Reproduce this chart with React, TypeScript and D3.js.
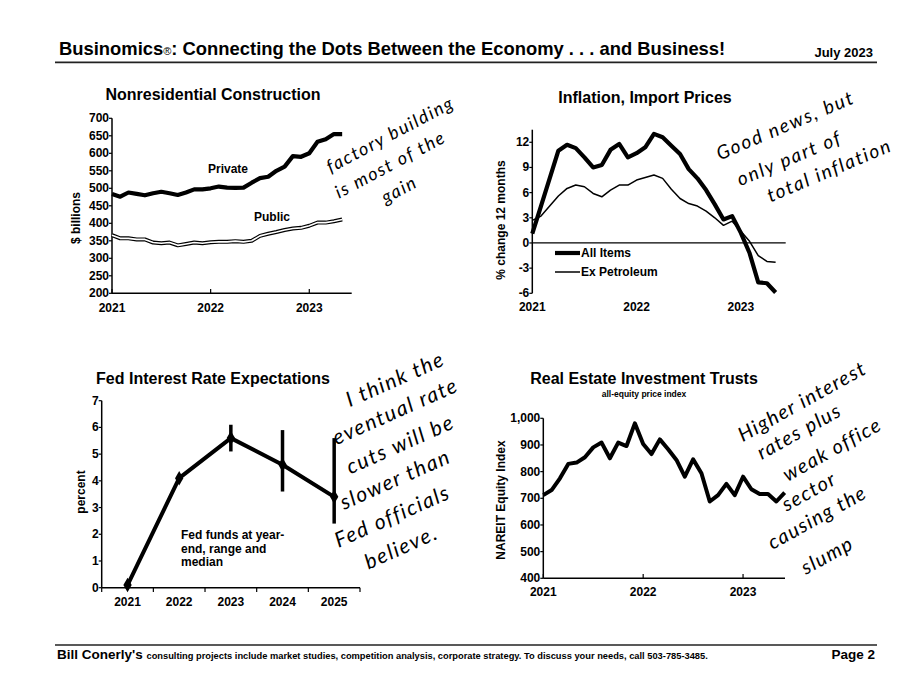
import React from "react";
import * as d3 from "d3";

// ---------- DATA ----------
// Monthly, Jan 2021 ->
const privateConstruction = [484, 476, 488, 484, 480, 486, 490, 486, 481, 488, 497, 497, 500, 505, 502, 501, 502, 516, 529, 533, 550, 562, 592, 590, 600, 633, 640, 655, 655];
const publicConstruction = [366, 357, 357, 354, 354, 345, 343, 345, 337, 341, 345, 343, 346, 347, 347, 349, 347, 350, 364, 370, 375, 381, 385, 387, 393, 402, 402, 406, 411];
const constructionTicks = [200, 250, 300, 350, 400, 450, 500, 550, 600, 650, 700];

const allItems = [1.1, 4.4, 7.7, 11.0, 11.7, 11.3, 10.2, 9.0, 9.3, 11.1, 11.8, 10.2, 10.7, 11.4, 13.0, 12.6, 11.6, 10.6, 8.8, 7.7, 6.3, 4.6, 2.8, 3.2, 1.2, -1.2, -4.7, -4.8, -5.9];
const exPetroleum = [2.7, 3.2, 4.4, 5.6, 6.5, 6.9, 6.7, 5.9, 5.5, 6.3, 6.9, 6.9, 7.5, 7.8, 8.1, 7.7, 6.4, 5.3, 4.7, 4.4, 3.8, 3.0, 2.1, 2.6, 1.4, 0.2, -1.5, -2.2, -2.3];
const inflationTicks = [-6, -3, 0, 3, 6, 9, 12];

const fedYears = ["2021", "2022", "2023", "2024", "2025"];
const fedMedian = [0.1, 4.1, 5.6, 4.6, 3.4];
const fedLow = [null, null, 5.1, 3.6, 2.4];
const fedHigh = [null, null, 6.1, 5.9, 5.6];
const fedTicks = [0, 1, 2, 3, 4, 5, 6, 7];

const reitIndex = [712, 731, 775, 829, 834, 854, 891, 909, 850, 909, 896, 981, 904, 866, 921, 884, 844, 781, 846, 794, 688, 712, 754, 712, 781, 734, 716, 716, 688, 721];
const reitTicks = [400, 500, 600, 700, 800, 900, 1000];

const yearTicks = [0, 1, 2];
const yearLabels = ["2021", "2022", "2023"];

const FONT = "'Liberation Sans', Arial, Helvetica, sans-serif";
const HAND = "Lato, 'Open Sans', sans-serif";

type HandLine = { text: string; x: number; y: number };
const note1: HandLine[] = [
  { text: "factory building", x: 391, y: 136 },
  { text: "is most of the", x: 391, y: 166 },
  { text: "gain", x: 400, y: 191 },
];
const note2: HandLine[] = [
  { text: "Good news, but", x: 786, y: 127 },
  { text: "only part of", x: 790, y: 160 },
  { text: "total inflation", x: 830, y: 172 },
];
const note3: HandLine[] = [
  { text: "I think the", x: 396, y: 381 },
  { text: "eventual rate", x: 396, y: 413 },
  { text: "cuts will be", x: 401, y: 446 },
  { text: "slower than", x: 396, y: 481 },
  { text: "Fed officials", x: 393, y: 518 },
  { text: "believe.", x: 402, y: 549 },
];
const note4: HandLine[] = [
  { text: "Higher interest", x: 803, y: 403 },
  { text: "rates plus", x: 800, y: 433 },
  { text: "weak office", x: 833, y: 451 },
  { text: "sector", x: 810, y: 493 },
  { text: "causing the", x: 818, y: 519 },
  { text: "slump", x: 828, y: 557 },
];

function Hand({ lines, rot, size, spacing }: { lines: HandLine[]; rot: number; size: number; spacing: number }) {
  return (
    <g fontFamily={HAND} fontSize={size} fontStyle="italic" fontWeight={400} fill="#000" letterSpacing={spacing}>
      {lines.map((l, i) => (
        <text key={i} x={l.x} y={l.y} textAnchor="middle" dominantBaseline="middle" transform={`rotate(${rot},${l.x},${l.y})`}>
          {l.text}
        </text>
      ))}
    </g>
  );
}

function YAxis({ scale, ticks, x, fmt }: { scale: d3.ScaleLinear<number, number>; ticks: number[]; x: number; fmt?: (v: number) => string }) {
  const r = scale.range();
  return (
    <g>
      <line x1={x} x2={x} y1={r[0]} y2={r[1]} stroke="#000" strokeWidth={1.5} />
      {ticks.map((t) => (
        <g key={t}>
          <line x1={x - 3} x2={x} y1={scale(t)} y2={scale(t)} stroke="#000" strokeWidth={1.2} />
          <text x={x - 3} y={scale(t)} textAnchor="end" dominantBaseline="central" fontSize={12} fontWeight="bold">
            {fmt ? fmt(t) : String(t)}
          </text>
        </g>
      ))}
    </g>
  );
}

function Chart1() {
  const x = d3.scaleLinear().domain([0, 2.43]).range([112, 351.7]);
  const y = d3.scaleLinear().domain([200, 700]).range([293.3, 118.3]);
  const line = d3.line<number>().x((_, i) => x(i / 12)).y((d) => y(d));
  return (
    <g>
      <text x={213} y={100} textAnchor="middle" fontSize={16} fontWeight="bold">Nonresidential Construction</text>
      <YAxis scale={y} ticks={constructionTicks} x={112} />
      <line x1={112} x2={351.7} y1={293.3} y2={293.3} stroke="#000" strokeWidth={1.5} />
      {yearTicks.map((t, i) => (
        <g key={t}>
          <line x1={x(t)} x2={x(t)} y1={293.3} y2={289} stroke="#000" strokeWidth={1.2} />
          <text x={x(t)} y={308} textAnchor="middle" dominantBaseline="central" fontSize={12} fontWeight="bold">{yearLabels[i]}</text>
        </g>
      ))}
      <text transform="translate(76,218) rotate(-90)" textAnchor="middle" dominantBaseline="central" fontSize={12} fontWeight="bold">$ billions</text>
      <path d={line(publicConstruction) || ""} fill="none" stroke="#000" strokeWidth={4} strokeLinejoin="round" />
      <path d={line(publicConstruction) || ""} fill="none" stroke="#fff" strokeWidth={1.6} strokeLinejoin="round" />
      <path d={line(privateConstruction) || ""} fill="none" stroke="#000" strokeWidth={4.2} strokeLinejoin="round" />
      <text x={228} y={169} textAnchor="middle" dominantBaseline="central" fontSize={12} fontWeight="bold">Private</text>
      <text x={272} y={217} textAnchor="middle" dominantBaseline="central" fontSize={12} fontWeight="bold">Public</text>
    </g>
  );
}

function Chart2() {
  const x = d3.scaleLinear().domain([0, 2.43]).range([532.3, 785.7]);
  const y = d3.scaleLinear().domain([-6, 13.5]).range([293.3, 129.7]);
  const line = d3.line<number>().x((_, i) => x(i / 12)).y((d) => y(d));
  return (
    <g>
      <text x={645} y={103} textAnchor="middle" fontSize={16} fontWeight="bold">Inflation, Import Prices</text>
      <YAxis scale={y} ticks={inflationTicks} x={532.3} />
      <line x1={532.3} x2={785.7} y1={y(0)} y2={y(0)} stroke="#000" strokeWidth={1.3} />
      {yearTicks.map((t, i) => (
        <text key={t} x={x(t)} y={307} textAnchor="middle" dominantBaseline="central" fontSize={12} fontWeight="bold">{yearLabels[i]}</text>
      ))}
      <text transform="translate(501,220) rotate(-90)" textAnchor="middle" dominantBaseline="central" fontSize={12} fontWeight="bold">% change 12 months</text>
      <path d={line(exPetroleum) || ""} fill="none" stroke="#000" strokeWidth={1.5} strokeLinejoin="round" />
      <path d={line(allItems) || ""} fill="none" stroke="#000" strokeWidth={4.2} strokeLinejoin="round" />
      <line x1={555} x2={580} y1={253} y2={253} stroke="#000" strokeWidth={4.2} />
      <text x={581} y={253} dominantBaseline="central" fontSize={12} fontWeight="bold">All Items</text>
      <line x1={555} x2={580} y1={272} y2={272} stroke="#000" strokeWidth={1.5} />
      <text x={581} y={272} dominantBaseline="central" fontSize={12} fontWeight="bold">Ex Petroleum</text>
    </g>
  );
}

function Chart3() {
  const x = d3.scaleBand<string>().domain(fedYears).range([101.7, 360]).padding(0);
  const cx = (s: string) => (x(s) as number) + x.bandwidth() / 2;
  const y = d3.scaleLinear().domain([0, 7]).range([587.7, 400.7]);
  const line = d3.line<number>().x((_, i) => cx(fedYears[i])).y((d) => y(d));
  const diamond = d3.symbol().type(d3.symbolDiamond).size(60)() || "";
  const edges = [...fedYears.map((s) => x(s) as number), 360];
  return (
    <g>
      <text x={213} y={384} textAnchor="middle" fontSize={16} fontWeight="bold">Fed Interest Rate Expectations</text>
      <YAxis scale={y} ticks={fedTicks} x={101.7} />
      <line x1={101.7} x2={360} y1={587.7} y2={587.7} stroke="#000" strokeWidth={1.5} />
      {edges.map((e, i) => (
        <line key={i} x1={e} x2={e} y1={587.7} y2={592} stroke="#000" strokeWidth={1.2} />
      ))}
      {fedYears.map((s) => (
        <text key={s} x={cx(s)} y={602} textAnchor="middle" dominantBaseline="central" fontSize={12} fontWeight="bold">{s}</text>
      ))}
      <text transform="translate(81,492) rotate(-90)" textAnchor="middle" dominantBaseline="central" fontSize={12} fontWeight="bold">percent</text>
      {fedYears.map((s, i) =>
        fedLow[i] != null && fedHigh[i] != null ? (
          <line key={s} x1={cx(s)} x2={cx(s)} y1={y(fedLow[i] as number)} y2={y(fedHigh[i] as number)} stroke="#000" strokeWidth={3.5} />
        ) : null
      )}
      <path d={line(fedMedian) || ""} fill="none" stroke="#000" strokeWidth={4} strokeLinejoin="round" />
      {fedMedian.map((v, i) => (
        <path key={i} d={diamond} transform={`translate(${cx(fedYears[i])},${y(v)})`} fill="#000" />
      ))}
      <g fontSize={12} fontWeight="bold">
        <text x={181} y={535} dominantBaseline="central">Fed funds at year-</text>
        <text x={181} y={548.5} dominantBaseline="central">end, range and</text>
        <text x={181} y={562} dominantBaseline="central">median</text>
      </g>
    </g>
  );
}

function Chart4() {
  const x = d3.scaleLinear().domain([0, 2.42]).range([543.3, 785]);
  const y = d3.scaleLinear().domain([400, 1000]).range([578.3, 418.3]);
  const line = d3.line<number>().x((_, i) => x(i / 12)).y((d) => y(d));
  const fmt = d3.format(",");
  return (
    <g>
      <text x={644} y={384} textAnchor="middle" fontSize={16} fontWeight="bold">Real Estate Investment Trusts</text>
      <text x={644} y={394} textAnchor="middle" dominantBaseline="central" fontSize={8.5} fontWeight="bold">all-equity price index</text>
      <YAxis scale={y} ticks={reitTicks} x={543.3} fmt={(v) => fmt(v)} />
      <line x1={543.3} x2={785} y1={578.3} y2={578.3} stroke="#000" strokeWidth={1.5} />
      {yearTicks.map((t, i) => (
        <g key={t}>
          <line x1={x(t)} x2={x(t)} y1={578.3} y2={574} stroke="#000" strokeWidth={1.2} />
          <text x={x(t)} y={592} textAnchor="middle" dominantBaseline="central" fontSize={12} fontWeight="bold">{yearLabels[i]}</text>
        </g>
      ))}
      <text transform="translate(501,500) rotate(-90)" textAnchor="middle" dominantBaseline="central" fontSize={12} fontWeight="bold">NAREIT Equity Index</text>
      <path d={line(reitIndex) || ""} fill="none" stroke="#000" strokeWidth={4} strokeLinejoin="round" />
    </g>
  );
}

export default function App() {
  return (
    <svg width={914} height={700} viewBox="0 0 914 700" style={{ position: "absolute", left: 0, top: 0, background: "#fff" }} fontFamily={FONT}>
      <rect width={914} height={700} fill="#fff" />
      {/* header */}
      <text x={59} y={55} fontSize={18.4} fontWeight="bold">
        Businomics<tspan fontSize={11} fontWeight="normal">®</tspan>: Connecting the Dots Between the Economy . . . and Business!
      </text>
      <text x={873} y={57} textAnchor="end" fontSize={13} fontWeight="bold">July 2023</text>
      <line x1={55} x2={877} y1={62.3} y2={62.3} stroke="#222" strokeWidth={1.8} />
      {/* footer */}
      <line x1={55} x2={877} y1={645} y2={645} stroke="#222" strokeWidth={1.6} />
      <text x={57} y={659} fontWeight="bold">
        <tspan fontSize={13.5}>Bill Conerly's </tspan>
        <tspan fontSize={9.3}>consulting projects include market studies, competition analysis, corporate strategy.  To discuss your needs, call 503-785-3485.</tspan>
      </text>
      <text x={875} y={659} textAnchor="end" fontSize={13.5} fontWeight="bold">Page 2</text>
      <Chart1 />
      <Chart2 />
      <Chart3 />
      <Chart4 />
      <Hand lines={note1} rot={-28} size={18} spacing={1.6} />
      <Hand lines={note2} rot={-23} size={19} spacing={1.8} />
      <Hand lines={note3} rot={-24} size={21} spacing={1.6} />
      <Hand lines={note4} rot={-29} size={20} spacing={1.4} />
    </svg>
  );
}
